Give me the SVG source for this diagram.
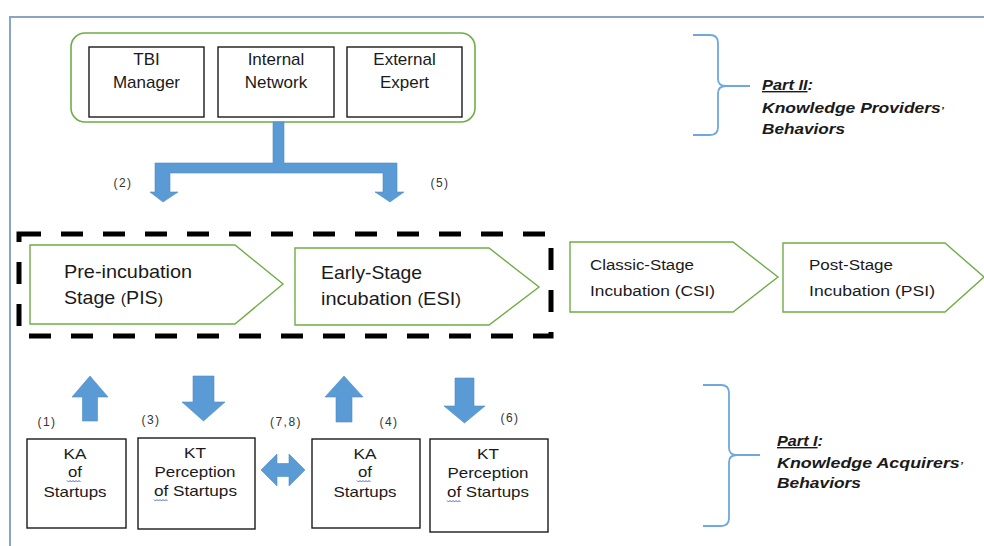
<svg xmlns="http://www.w3.org/2000/svg" width="984" height="546" viewBox="0 0 984 546">
  <style>
    .txt { font-family: "Liberation Sans", Arial, sans-serif; fill: #1a1a1a; }
    .box { fill: #ffffff; stroke: #1a1a1a; stroke-width: 1.4; }
    .stage { fill: #ffffff; stroke: #70ad47; stroke-width: 1.4; }
    .arrow { fill: #5b9bd5; stroke: #4f8cc6; stroke-width: 0.6; }
    .brace { fill: none; stroke: #6fa8dc; stroke-width: 1.8; }
    .num { font-family: "Liberation Sans", Arial, sans-serif; font-size: 12px; fill: #333333; letter-spacing: 1.5px; text-anchor: middle; }
    .part { font-family: "Liberation Sans", Arial, sans-serif; font-size: 14px; font-weight: bold; font-style: italic; fill: #1a1a1a; }
    .squiggle { fill: none; stroke: #4a6bd8; stroke-width: 1; }
  </style>

  <!-- outer frame -->
  <path d="M10,546 L10,17 L984,17" fill="none" stroke="#8aa4c4" stroke-width="2"/>

  <!-- knowledge providers -->
  <g id="providers">
    <rect x="71" y="33" width="404" height="89" rx="14" ry="14" fill="#ffffff" stroke="#70ad47" stroke-width="1.6"/>
  </g>
  <g id="tbi-manager">
    <rect class="box" x="89" y="47" width="115" height="70"/>
    <text class="txt" font-size="17" text-anchor="middle" x="146.5" y="65">TBI</text>
    <text class="txt" font-size="17" text-anchor="middle" x="146.5" y="88">Manager</text>
  </g>
  <g id="internal-network">
    <rect class="box" x="218" y="47" width="116" height="70"/>
    <text class="txt" font-size="17" text-anchor="middle" x="276" y="65">Internal</text>
    <text class="txt" font-size="17" text-anchor="middle" x="276" y="88">Network</text>
  </g>
  <g id="external-expert">
    <rect class="box" x="347" y="47" width="115" height="70"/>
    <text class="txt" font-size="17" text-anchor="middle" x="404.5" y="65">External</text>
    <text class="txt" font-size="17" text-anchor="middle" x="404.5" y="88">Expert</text>
  </g>

  <!-- incubation stages -->
  <g id="focus-frame">
    <rect x="19" y="234" width="532" height="102" fill="none" stroke="#000000" stroke-width="5" stroke-dasharray="22 20"/>
  </g>
  <g id="stage-pis">
    <polygon class="stage" points="30,245 235,245 283,284 235,324 30,324"/>
    <text class="txt" font-size="18.5" x="64" y="278" textLength="128" lengthAdjust="spacingAndGlyphs">Pre-incubation</text>
    <text class="txt" font-size="18.5" x="64" y="304" textLength="99" lengthAdjust="spacingAndGlyphs">Stage <tspan font-size="15">(</tspan>PIS<tspan font-size="15">)</tspan></text>
  </g>
  <g id="stage-esi">
    <polygon class="stage" points="295,248 489,248 539,287 489,325 295,325"/>
    <text class="txt" font-size="18.5" x="321" y="279" textLength="101" lengthAdjust="spacingAndGlyphs">Early-Stage</text>
    <text class="txt" font-size="18.5" x="321" y="305" textLength="140" lengthAdjust="spacingAndGlyphs">incubation <tspan font-size="16">(</tspan>ESI<tspan font-size="16">)</tspan></text>
  </g>
  <g id="stage-csi">
    <polygon class="stage" points="570,242 733,242 778,277 733,312 570,312"/>
    <text class="txt" font-size="14" x="590" y="270" textLength="104" lengthAdjust="spacingAndGlyphs">Classic-Stage</text>
    <text class="txt" font-size="14" x="590" y="296" textLength="125" lengthAdjust="spacingAndGlyphs">Incubation  (CSI)</text>
  </g>
  <g id="stage-psi">
    <polygon class="stage" points="783,243 945,243 984,277 945,312 783,312"/>
    <text class="txt" font-size="14" x="809" y="270" textLength="84" lengthAdjust="spacingAndGlyphs">Post-Stage</text>
    <text class="txt" font-size="14" x="809" y="296" textLength="126" lengthAdjust="spacingAndGlyphs">Incubation  (PSI)</text>
  </g>

  <!-- knowledge acquirers -->
  <g id="ka-1">
    <rect class="box" x="27" y="439" width="99" height="89"/>
    <text class="txt" font-size="14.5" text-anchor="middle" x="75" y="459" textLength="23" lengthAdjust="spacingAndGlyphs">KA</text>
    <text class="txt" font-size="14.5" text-anchor="middle" x="75" y="477" textLength="14" lengthAdjust="spacingAndGlyphs">of</text>
    <path class="squiggle" d="M67,480.5 l1.5,1.5 l1.5,-1.5 l1.5,1.5 l1.5,-1.5 l1.5,1.5 l1.5,-1.5 l1.5,1.5 l1.5,-1.5 l1.5,1.5"/>
    <text class="txt" font-size="14.5" text-anchor="middle" x="75" y="497" textLength="63" lengthAdjust="spacingAndGlyphs">Startups</text>
  </g>
  <g id="kt-1">
    <rect class="box" x="138" y="438" width="117" height="91"/>
    <text class="txt" font-size="14.5" text-anchor="middle" x="195" y="458" textLength="22" lengthAdjust="spacingAndGlyphs">KT</text>
    <text class="txt" font-size="14.5" text-anchor="middle" x="195" y="477" textLength="81" lengthAdjust="spacingAndGlyphs">Perception</text>
    <text class="txt" font-size="14.5" text-anchor="middle" x="195.5" y="496" textLength="83" lengthAdjust="spacingAndGlyphs">of Startups</text>
    <path class="squiggle" d="M154,499.5 l1.5,1.5 l1.5,-1.5 l1.5,1.5 l1.5,-1.5 l1.5,1.5 l1.5,-1.5 l1.5,1.5 l1.5,-1.5 l1.5,1.5"/>
  </g>
  <g id="ka-2">
    <rect class="box" x="312" y="439" width="108" height="89"/>
    <text class="txt" font-size="14.5" text-anchor="middle" x="365" y="459" textLength="23" lengthAdjust="spacingAndGlyphs">KA</text>
    <text class="txt" font-size="14.5" text-anchor="middle" x="365" y="477" textLength="14" lengthAdjust="spacingAndGlyphs">of</text>
    <path class="squiggle" d="M357,480.5 l1.5,1.5 l1.5,-1.5 l1.5,1.5 l1.5,-1.5 l1.5,1.5 l1.5,-1.5 l1.5,1.5 l1.5,-1.5 l1.5,1.5"/>
    <text class="txt" font-size="14.5" text-anchor="middle" x="365" y="497" textLength="63" lengthAdjust="spacingAndGlyphs">Startups</text>
  </g>
  <g id="kt-2">
    <rect class="box" x="430" y="439" width="118" height="93"/>
    <text class="txt" font-size="14.5" text-anchor="middle" x="488" y="459" textLength="22" lengthAdjust="spacingAndGlyphs">KT</text>
    <text class="txt" font-size="14.5" text-anchor="middle" x="488" y="478" textLength="81" lengthAdjust="spacingAndGlyphs">Perception</text>
    <text class="txt" font-size="14.5" text-anchor="middle" x="488" y="497" textLength="82" lengthAdjust="spacingAndGlyphs">of Startups</text>
    <path class="squiggle" d="M447,500.5 l1.5,1.5 l1.5,-1.5 l1.5,1.5 l1.5,-1.5 l1.5,1.5 l1.5,-1.5 l1.5,1.5 l1.5,-1.5 l1.5,1.5"/>
  </g>

  <!-- block arrows -->
  <g id="connectors">
    <path class="arrow" d="M273,122 L284,122 L284,163 L397,163 L397,192 L404,192 L390,202 L375,192 L383,192 L383,173 L170,173 L170,192 L178,192 L163,202 L150,192 L155,192 L155,163 L273,163 Z"/>
    <polygon class="arrow" points="90,376 108,397 97.5,397 97.5,421 82.5,421 82.5,397 72,397"/>
    <polygon class="arrow" points="193,376 214,376 214,402 225,402 203.5,421 182,402 193,402"/>
    <polygon class="arrow" points="344,376 363,397 352,397 352,422 336,422 336,397 325,397"/>
    <polygon class="arrow" points="455,378 474,378 474,406 485,406 464.5,423 444,406 455,406"/>
    <polygon class="arrow" points="261,470 277,454 277,463.5 289,463.5 289,454 305,470 289,486 289,476.5 277,476.5 277,486"/>
  </g>

  <!-- step numbers -->
  <g id="step-labels">
    <text class="num" x="123" y="187">(2)</text>
    <text class="num" x="440" y="187">(5)</text>
    <text class="num" x="47" y="426">(1)</text>
    <text class="num" x="151" y="424">(3)</text>
    <text class="num" x="286" y="426">(7,8)</text>
    <text class="num" x="389" y="426">(4)</text>
    <text class="num" x="510" y="422">(6)</text>
  </g>

  <!-- part braces and captions -->
  <g id="part-two">
    <path class="brace" d="M693,35 L710,35 Q718,35 718,43 L718,79 Q718,86 726,86 L750,86 M726,86 Q718,86 718,93 L718,127 Q718,135 710,135 L693,135"/>
    <text class="part" x="762" y="90" textLength="51" lengthAdjust="spacingAndGlyphs"><tspan text-decoration="underline">Part II</tspan>:</text>
    <text class="part" x="762" y="113" textLength="182" lengthAdjust="spacingAndGlyphs">Knowledge Providers<tspan font-size="9">’</tspan></text>
    <text class="part" x="762" y="134" textLength="83" lengthAdjust="spacingAndGlyphs">Behaviors</text>
  </g>
  <g id="part-one">
    <path class="brace" d="M703,385 L721,385 Q729,385 729,393 L729,448 Q729,455 737,455 L760,455 M737,455 Q729,455 729,462 L729,518 Q729,526 721,526 L703,526"/>
    <text class="part" x="777" y="446" textLength="46" lengthAdjust="spacingAndGlyphs"><tspan text-decoration="underline">Part I</tspan>:</text>
    <text class="part" x="777" y="468" textLength="186" lengthAdjust="spacingAndGlyphs">Knowledge Acquirers<tspan font-size="9">’</tspan></text>
    <text class="part" x="777" y="488" textLength="84" lengthAdjust="spacingAndGlyphs">Behaviors</text>
  </g>
</svg>
